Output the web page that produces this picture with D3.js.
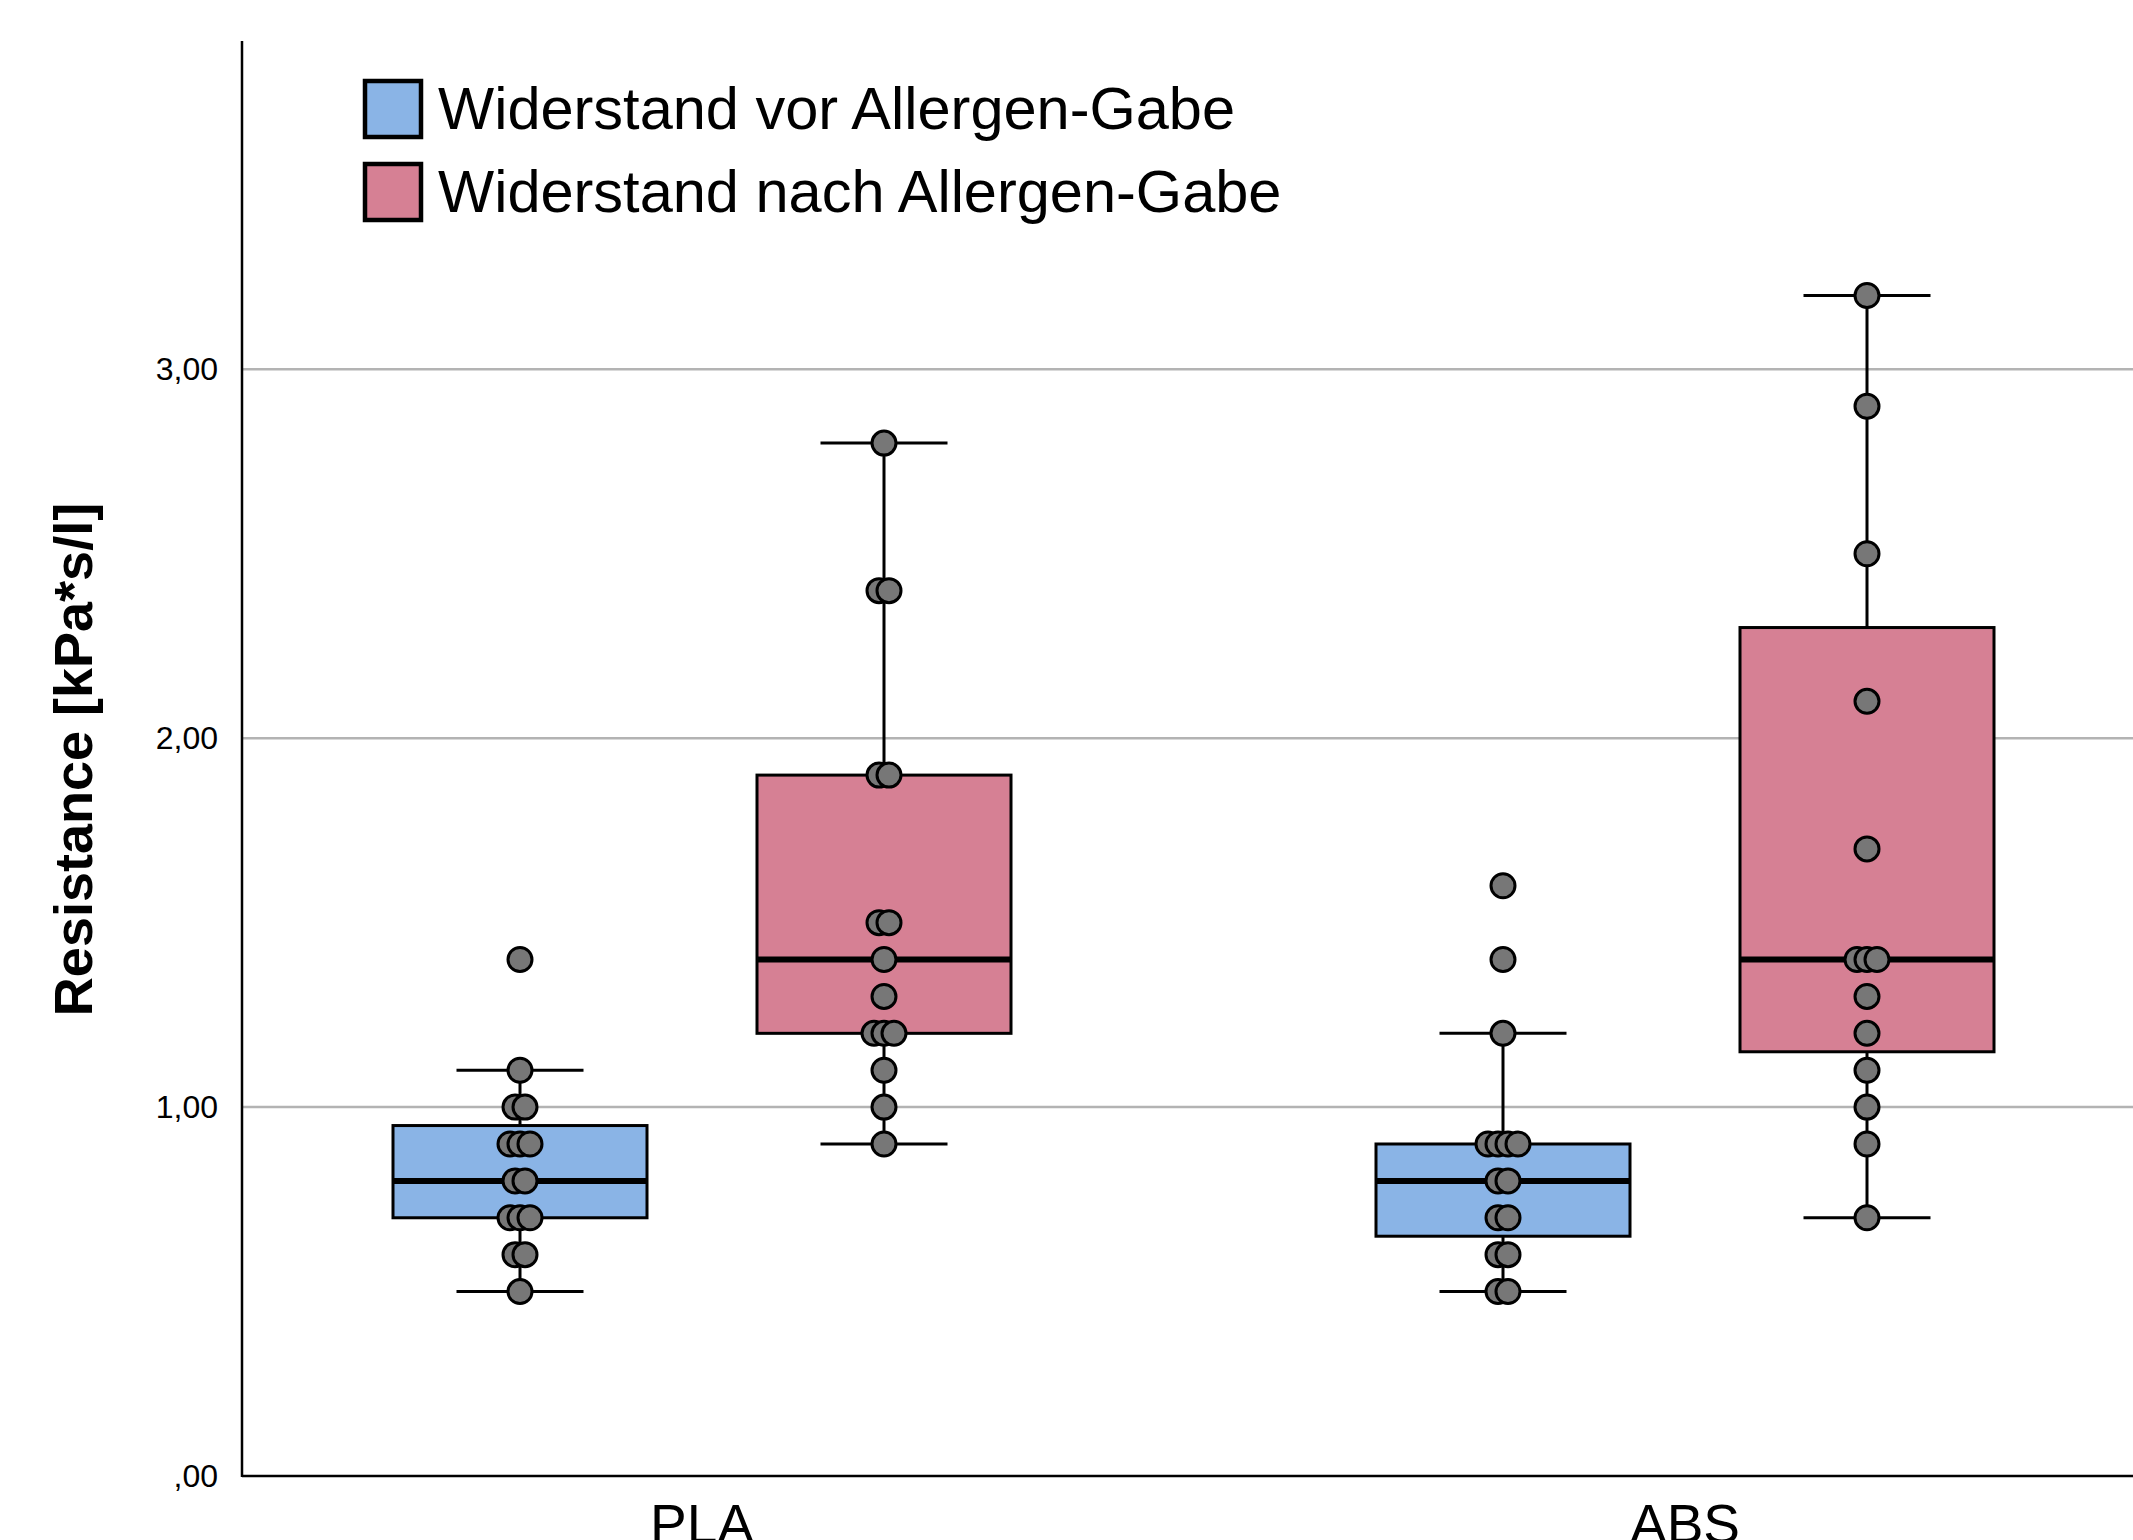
<!DOCTYPE html>
<html>
<head>
<meta charset="utf-8">
<script src="https://cdn.jsdelivr.net/npm/d3@7"></script>
<style>
  html, body { margin: 0; padding: 0; background: #fff; }
  svg { display: block; }
  text { font-family: "Liberation Sans", Arial, sans-serif; }
</style>
</head>
<body>
<svg id="chart" width="2133" height="1540"></svg>
<script>
// ---------------- data ----------------
const categories = ["PLA", "ABS"];
const series = ["Widerstand vor Allergen-Gabe", "Widerstand nach Allergen-Gabe"];
const yTicks = [0, 1, 2, 3];
const yTickLabels = [",00", "1,00", "2,00", "3,00"];

// individual observations
const plaVor  = [1.4, 1.1, 1.0, 1.0, 0.9, 0.9, 0.9, 0.8, 0.8, 0.7, 0.7, 0.7, 0.6, 0.6, 0.5];
const plaNach = [2.8, 2.4, 2.4, 1.9, 1.9, 1.5, 1.5, 1.4, 1.3, 1.2, 1.2, 1.2, 1.1, 1.0, 0.9];
const absVor  = [1.6, 1.4, 1.2, 0.9, 0.9, 0.9, 0.9, 0.8, 0.8, 0.7, 0.7, 0.6, 0.6, 0.5, 0.5];
const absNach = [3.2, 2.9, 2.5, 2.1, 1.7, 1.4, 1.4, 1.4, 1.3, 1.2, 1.1, 1.0, 0.9, 0.7];

// box statistics (as drawn), order: [PLA, ABS]
const vorWhiskerLow   = [0.5, 0.5];
const vorQ1           = [0.7, 0.65];
const vorMedian       = [0.8, 0.8];
const vorQ3           = [0.95, 0.9];
const vorWhiskerHigh  = [1.1, 1.2];
const nachWhiskerLow  = [0.9, 0.7];
const nachQ1          = [1.2, 1.15];
const nachMedian      = [1.4, 1.4];
const nachQ3          = [1.9, 2.3];
const nachWhiskerHigh = [2.8, 3.2];

// ---------------- build ----------------
const colors = ["#8ab4e6", "#d68094"];
const groups = [];
categories.forEach((c, ci) => {
  groups.push({cat: c, s: 0, pts: ci === 0 ? plaVor : absVor,
    wl: vorWhiskerLow[ci], q1: vorQ1[ci], med: vorMedian[ci], q3: vorQ3[ci], wh: vorWhiskerHigh[ci]});
  groups.push({cat: c, s: 1, pts: ci === 0 ? plaNach : absNach,
    wl: nachWhiskerLow[ci], q1: nachQ1[ci], med: nachMedian[ci], q3: nachQ3[ci], wh: nachWhiskerHigh[ci]});
});

const svg = d3.select("#chart");
const axisX = 242, axisBottom = 1476, axisTop = 41, rightEdge = 2133;
const yMax = 3.89;

const x = d3.scaleBand().domain(categories).range([210.5, 2176.5]).padding(0);
const xs = d3.scalePoint().domain([0, 1]).range([-182, 182]);
const y = d3.scaleLinear().domain([0, yMax]).range([axisBottom, axisTop]);
const boxW = 254, capW = 127, r = 12, dupStep = 10;

const cx = g => x(g.cat) + x.bandwidth() / 2 + xs(g.s);

// gridlines
svg.append("g").selectAll("line").data(yTicks.filter(t => t > 0)).join("line")
  .attr("x1", axisX).attr("x2", rightEdge)
  .attr("y1", d => y(d)).attr("y2", d => y(d))
  .attr("stroke", "#b3b3b3").attr("stroke-width", 2.5);

// y axis with d3 axis (ticks hidden, labels only)
const yAxis = d3.axisLeft(y).tickValues(yTicks)
  .tickFormat((d, i) => yTickLabels[i]).tickSize(0).tickPadding(24);
const yg = svg.append("g").attr("transform", `translate(${axisX},0)`).call(yAxis);
yg.select(".domain").remove();
yg.selectAll("text").attr("font-size", 32).attr("fill", "#000")
  .style("font-family", '"Liberation Sans", Arial, sans-serif');

// axis lines
svg.append("line").attr("x1", axisX).attr("x2", axisX).attr("y1", axisTop).attr("y2", axisBottom + 1)
  .attr("stroke", "#000").attr("stroke-width", 2.5);
svg.append("line").attr("x1", axisX).attr("x2", rightEdge).attr("y1", axisBottom).attr("y2", axisBottom)
  .attr("stroke", "#000").attr("stroke-width", 2.5);

// x axis labels
const xAxis = d3.axisBottom(x).tickSize(0).tickPadding(0);
const xg = svg.append("g").attr("transform", `translate(0,${axisBottom})`).call(xAxis);
xg.select(".domain").remove();
xg.selectAll("text").attr("font-size", 55).attr("fill", "#000").attr("dy", null)
  .attr("y", 67).attr("dominant-baseline", "auto")
  .style("font-family", '"Liberation Sans", Arial, sans-serif');

// y axis title
svg.append("text")
  .attr("transform", `translate(92,${(y(0) + y(yMax)) / 2 + 1}) rotate(-90)`)
  .attr("text-anchor", "middle")
  .attr("font-size", 54).attr("font-weight", "bold")
  .text("Resistance [kPa*s/l]");

// boxes
const bg = svg.append("g").selectAll("g").data(groups).join("g");
// whiskers
bg.append("line").attr("x1", cx).attr("x2", cx).attr("y1", d => y(d.wh)).attr("y2", d => y(d.q3))
  .attr("stroke", "#000").attr("stroke-width", 3);
bg.append("line").attr("x1", cx).attr("x2", cx).attr("y1", d => y(d.q1)).attr("y2", d => y(d.wl))
  .attr("stroke", "#000").attr("stroke-width", 3);
bg.append("line").attr("x1", d => cx(d) - capW / 2).attr("x2", d => cx(d) + capW / 2)
  .attr("y1", d => y(d.wh)).attr("y2", d => y(d.wh)).attr("stroke", "#000").attr("stroke-width", 3);
bg.append("line").attr("x1", d => cx(d) - capW / 2).attr("x2", d => cx(d) + capW / 2)
  .attr("y1", d => y(d.wl)).attr("y2", d => y(d.wl)).attr("stroke", "#000").attr("stroke-width", 3);
// box
bg.append("rect").attr("x", d => cx(d) - boxW / 2).attr("width", boxW)
  .attr("y", d => y(d.q3)).attr("height", d => y(d.q1) - y(d.q3))
  .attr("fill", d => colors[d.s]).attr("stroke", "#000").attr("stroke-width", 3);
// median
bg.append("line").attr("x1", d => cx(d) - boxW / 2).attr("x2", d => cx(d) + boxW / 2)
  .attr("y1", d => y(d.med)).attr("y2", d => y(d.med)).attr("stroke", "#000").attr("stroke-width", 6);

// points (duplicates spread horizontally)
const pts = [];
groups.forEach(g => {
  const counts = d3.rollup(g.pts, v => v.length, v => v);
  const seen = new Map();
  g.pts.forEach(v => {
    const k = counts.get(v), i = seen.get(v) || 0;
    seen.set(v, i + 1);
    pts.push({x: cx(g) + (i - (k - 1) / 2) * dupStep, v});
  });
});
pts.sort((a, b) => a.x - b.x);
svg.append("g").selectAll("circle").data(pts).join("circle")
  .attr("cx", d => d.x).attr("cy", d => y(d.v)).attr("r", r)
  .attr("fill", "#777777").attr("stroke", "#000").attr("stroke-width", 3);

// legend
const lg = svg.append("g").selectAll("g").data(series).join("g")
  .attr("transform", (d, i) => `translate(365,${81 + i * 83})`);
lg.append("rect").attr("width", 56).attr("height", 56)
  .attr("fill", (d, i) => colors[i]).attr("stroke", "#000").attr("stroke-width", 4.5);
lg.append("text").attr("x", 73).attr("y", 48).attr("font-size", 59.5).attr("fill", "#000").text(d => d);
</script>
</body>
</html>
